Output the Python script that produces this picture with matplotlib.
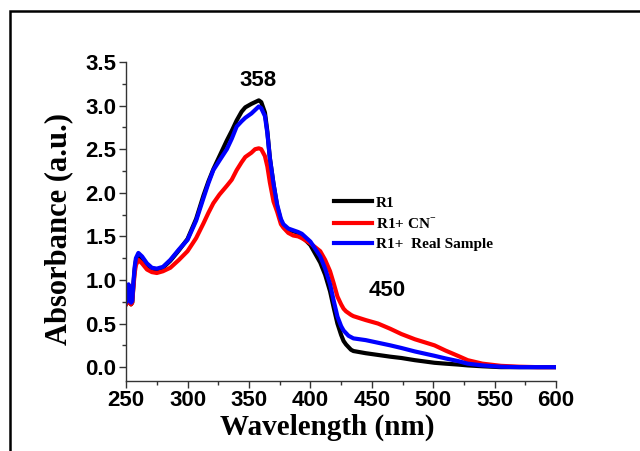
import matplotlib
matplotlib.use("Agg")
import matplotlib.pyplot as plt
from matplotlib.patches import Rectangle
from matplotlib.ticker import MultipleLocator

# Wavelength grid (nm) and absorbance of the three samples
wavelength = [250, 251, 252, 253, 254, 255, 256, 257, 258, 260, 263, 267, 271, 275,
              280, 286, 293, 300, 307, 313, 317, 321, 326, 332, 336, 340, 344, 347,
              352, 355, 358, 360, 363, 365, 367, 370, 373, 376, 378, 382, 386, 390,
              393, 400, 408, 412, 416, 419, 422, 425, 427, 429, 431, 433, 435, 445,
              455, 465, 474, 485, 501, 510, 520, 528, 540, 555, 570, 585, 600]

r1 = [0.72, 0.74, 0.93, 0.80, 0.72, 0.74, 0.95, 1.12, 1.22, 1.28, 1.24, 1.17, 1.13, 1.12,
      1.14, 1.22, 1.34, 1.47, 1.70, 1.97, 2.13, 2.27, 2.42, 2.60, 2.71, 2.83, 2.93, 2.98,
      3.02, 3.04, 3.06, 3.04, 2.92, 2.70, 2.40, 2.10, 1.84, 1.68, 1.62, 1.57, 1.56, 1.54,
      1.50, 1.40, 1.20, 1.06, 0.87, 0.68, 0.50, 0.37, 0.30, 0.26, 0.23, 0.20, 0.185, 0.16,
      0.14, 0.12, 0.105, 0.08, 0.05, 0.04, 0.03, 0.02, 0.01, 0.00, 0.00, 0.00, 0.00]

r1_cn = [0.72, 0.74, 0.88, 0.78, 0.72, 0.74, 0.92, 1.08, 1.17, 1.23, 1.19, 1.12, 1.09, 1.08,
         1.10, 1.14, 1.23, 1.33, 1.48, 1.65, 1.77, 1.88, 1.98, 2.08, 2.15, 2.26, 2.35, 2.41,
         2.46, 2.50, 2.51, 2.50, 2.42, 2.30, 2.12, 1.90, 1.78, 1.64, 1.60, 1.54, 1.51, 1.50,
         1.48, 1.42, 1.33, 1.23, 1.10, 0.96, 0.81, 0.72, 0.67, 0.64, 0.62, 0.60, 0.585, 0.54,
         0.50, 0.44, 0.38, 0.32, 0.25, 0.19, 0.13, 0.08, 0.04, 0.015, 0.005, 0.00, 0.00]

r1_real = [0.74, 0.76, 0.95, 0.82, 0.74, 0.76, 0.98, 1.15, 1.25, 1.31, 1.27, 1.19, 1.14, 1.13,
           1.15, 1.23, 1.35, 1.46, 1.68, 1.94, 2.11, 2.26, 2.37, 2.50, 2.62, 2.76, 2.82, 2.86,
           2.91, 2.95, 2.99, 2.97, 2.88, 2.68, 2.40, 2.10, 1.86, 1.70, 1.64, 1.59, 1.57, 1.55,
           1.53, 1.44, 1.27, 1.13, 0.95, 0.76, 0.58, 0.47, 0.42, 0.39, 0.36, 0.345, 0.33, 0.31,
           0.28, 0.25, 0.22, 0.18, 0.13, 0.10, 0.07, 0.04, 0.02, 0.005, 0.00, 0.00, 0.00]

series_labels = ["R1", r"R1+ CN$^{^{\mathbf{-}}}$", "R1+  Real Sample"]
series_colors = ["black", "red", "blue"]

x_ticks = [250, 300, 350, 400, 450, 500, 550, 600]
y_ticks = [0.0, 0.5, 1.0, 1.5, 2.0, 2.5, 3.0, 3.5]

plt.rcParams["mathtext.fontset"] = "stix"

fig = plt.figure(figsize=(6.4, 4.51), dpi=100)
ax = fig.add_axes([0.197, 0.155, 0.672, 0.7075])

for ys, col, lab in zip([r1, r1_cn, r1_real], series_colors, series_labels):
    ax.plot(wavelength, ys, color=col, lw=3, label=lab, solid_joinstyle="round")

ax.set_xlim(250, 600)
ax.set_ylim(-0.16, 3.5)
ax.set_xticks(x_ticks)
ax.set_yticks(y_ticks)
ax.set_yticklabels([f"{v:.1f}" for v in y_ticks])
ax.xaxis.set_minor_locator(MultipleLocator(25))
ax.yaxis.set_minor_locator(MultipleLocator(0.25))

for side in ("top", "right"):
    ax.spines[side].set_visible(False)
for side in ("left", "bottom"):
    ax.spines[side].set_linewidth(1.0)
    ax.spines[side].set_color("#333333")

ax.tick_params(which="major", direction="out", length=5, width=1, color="#333333",
               pad=2)
ax.tick_params(axis="x", which="major", pad=1.5)
ax.tick_params(which="minor", direction="out", length=3, width=1, color="#333333")
for lbl in ax.get_xticklabels() + ax.get_yticklabels():
    lbl.set_fontfamily("Liberation Sans")
    lbl.set_fontweight("bold")
    lbl.set_fontsize(16)

fig.text(0.511, 1 - 427 / 451, "Wavelength (nm)", ha="center", va="center",
         fontfamily="Liberation Serif", fontweight="bold", fontsize=21)
fig.text(0.091, 1 - 229 / 451, "Absorbance (a.u.)", ha="center", va="center",
         rotation=90, fontfamily="Liberation Serif", fontweight="bold", fontsize=22)

# peak annotations
fig.text(258 / 640, 1 - 80 / 451, "358", ha="center", va="center",
         fontfamily="Liberation Sans", fontweight="bold", fontsize=16)
fig.text(387 / 640, 1 - 291 / 451, "450", ha="center", va="center",
         fontfamily="Liberation Sans", fontweight="bold", fontsize=16)

ax.legend(loc="upper left", bbox_to_anchor=(331 / 640, 1 - 193 / 451),
          bbox_transform=fig.transFigure, frameon=False,
          prop={"family": "Liberation Serif", "weight": "bold", "size": 11},
          handlelength=2.5, handletextpad=0.25, labelspacing=0.38,
          borderpad=0.2, borderaxespad=0)

# outer frame of the figure panel
fig.patches.append(Rectangle((10 / 640, -0.1), 1.2, 1 - 11 / 451 + 0.1,
                             transform=fig.transFigure, fill=False,
                             edgecolor="black", linewidth=1.8))

fig.savefig("out.png", dpi=100)
